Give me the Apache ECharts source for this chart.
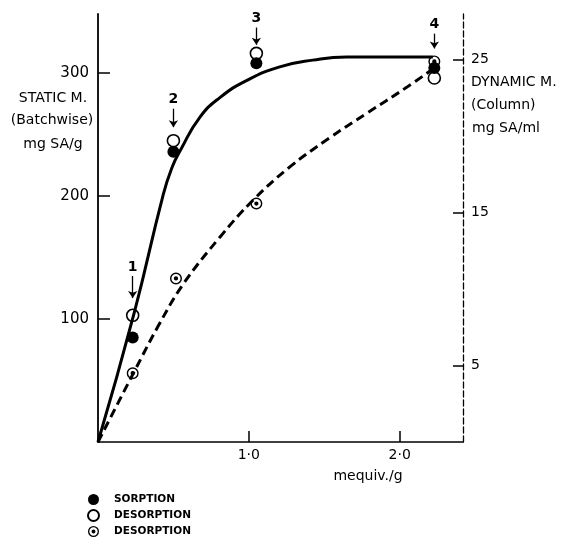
<!DOCTYPE html>
<html>
<head>
<meta charset="utf-8">
<script src="https://cdn.jsdelivr.net/npm/echarts@6/dist/echarts.min.js"></script>
<style>
  html, body { margin: 0; padding: 0; background: #fff; }
  #main { width: 566px; height: 539px; }
</style>
</head>
<body>
<div id="main"></div>
<script>
// points: x in mequiv./g
const sorption = [[0.23, 85], [0.50, 236], [1.05, 308], [2.23, 304]];
const desorptionOpen = [[0.23, 103], [0.50, 245], [1.05, 316], [2.23, 296]];
// dynamic (column) desorption, right axis mg SA/ml
const desorptionDyn = [[0.23, 4.5], [0.517, 10.7], [1.05, 15.6], [2.23, 24.9]];

// hand drawn curves
const staticCurve = [[0, 0], [0.24, 105], [0.43, 200], [0.49, 223], [0.55, 238],
  [0.675, 264], [0.808, 280], [0.987, 294], [1.205, 305], [1.424, 310.5], [1.649, 313], [2.22, 313]];
const dynamicCurve = [[0, 0], [0.24, 4.6], [0.40, 7.6], [0.563, 10.3], [0.808, 13.4], [1.026, 15.8],
  [1.272, 18.0], [1.536, 19.9], [1.781, 21.5], [2.046, 23.2], [2.22, 24.4]];

const xTicks = [1, 2];
const leftTicks = [100, 200, 300];
const rightTicks = [5, 15, 25];

// numbered arrows: [label, x, from, to] on left scale
const arrows = [['1', 0.23, 135, 117], ['2', 0.50, 271, 256], ['3', 1.05, 337, 323], ['4', 2.23, 332, 320]];

const circledDot = 'path://M10 0A10 10 0 1 1 10 20A10 10 0 1 1 10 0Z' +
  'M10 2.4A7.6 7.6 0 1 0 10 17.6A7.6 7.6 0 1 0 10 2.4Z' +
  'M10 6.4A3.6 3.6 0 1 1 10 13.6A3.6 3.6 0 1 1 10 6.4Z';

const FONT = 'DejaVu Sans';
const chart = echarts.init(document.getElementById('main'));

chart.setOption({
  animation: false,
  backgroundColor: '#fff',
  grid: { left: 98, right: 103, top: 14, bottom: 97 },
  xAxis: {
    type: 'value', min: 0, max: 2.42,
    axisLine: { lineStyle: { color: '#000', width: 1.5 } },
    axisTick: { inside: true, length: 11, customValues: xTicks, lineStyle: { color: '#000', width: 1.5 } },
    axisLabel: {
      customValues: xTicks, margin: 6, color: '#000', fontFamily: FONT, fontSize: 14,
      formatter: v => v.toFixed(1).replace('.', '·')
    },
    splitLine: { show: false }
  },
  yAxis: [
    {
      type: 'value', min: 0, max: 348, position: 'left',
      axisLine: { show: true, lineStyle: { color: '#000', width: 1.8 } },
      axisTick: { inside: true, length: 12, customValues: leftTicks, lineStyle: { color: '#000', width: 1.5 } },
      axisLabel: { customValues: leftTicks, margin: 9, color: '#000', fontFamily: FONT, fontSize: 15 },
      splitLine: { show: false }
    },
    {
      type: 'value', min: 0, max: 28, position: 'right',
      axisLine: { show: true, lineStyle: { color: '#000', width: 1.3, type: [6, 3] } },
      axisTick: { inside: true, length: 10, customValues: rightTicks, lineStyle: { color: '#000', width: 1.5 } },
      axisLabel: { customValues: rightTicks, margin: 8, color: '#000', fontFamily: FONT, fontSize: 14 },
      splitLine: { show: false }
    }
  ],
  legend: {
    orient: 'vertical', left: 87, top: 494, padding: 0, height: 45,
    itemWidth: 11, itemHeight: 11, itemGap: 4,
    data: ['SORPTION', 'DESORPTION', 'DESORPTION '],
    textStyle: { fontFamily: FONT, fontSize: 10.5, fontWeight: 'bold', color: '#000', padding: [0, 0, 0, 10] }
  },
  graphic: [
    { type: 'text', x: 53, y: 98, style: { text: 'STATIC M.', fontFamily: FONT, fontSize: 14, fill: '#000', align: 'center', verticalAlign: 'middle' } },
    { type: 'text', x: 52, y: 120, style: { text: '(Batchwise)', fontFamily: FONT, fontSize: 14, fill: '#000', align: 'center', verticalAlign: 'middle' } },
    { type: 'text', x: 53, y: 144, style: { text: 'mg SA/g', fontFamily: FONT, fontSize: 14, fill: '#000', align: 'center', verticalAlign: 'middle' } },
    { type: 'text', x: 471, y: 82, style: { text: 'DYNAMIC M.', fontFamily: FONT, fontSize: 14, fill: '#000', verticalAlign: 'middle' } },
    { type: 'text', x: 471, y: 105, style: { text: '(Column)', fontFamily: FONT, fontSize: 14, fill: '#000', verticalAlign: 'middle' } },
    { type: 'text', x: 472, y: 128, style: { text: 'mg SA/ml', fontFamily: FONT, fontSize: 14, fill: '#000', verticalAlign: 'middle' } },
    { type: 'text', x: 368, y: 476, style: { text: 'mequiv./g', fontFamily: FONT, fontSize: 14, fill: '#000', align: 'center', verticalAlign: 'middle' } }
  ],
  series: [
    {
      name: 'static', type: 'line', yAxisIndex: 0, data: staticCurve,
      smooth: 0.5, symbol: 'none',
      lineStyle: { color: '#000', width: 3 },
      markLine: {
        silent: true, symbol: ['none', 'arrow'], symbolSize: 7,
        lineStyle: { color: '#000', width: 1.3, type: 'solid' },
        label: { show: true, position: 'start', distance: 2, formatter: '{b}', color: '#000', fontFamily: FONT, fontSize: 14, fontWeight: 'bold' },
        data: arrows.map(a => [{ coord: [a[1], a[2]], name: a[0] }, { coord: [a[1], a[3]] }])
      }
    },
    {
      name: 'dynamic', type: 'line', yAxisIndex: 1, data: dynamicCurve,
      smooth: 0.4, symbol: 'none',
      lineStyle: { color: '#000', width: 3, type: [9, 5] }
    },
    {
      name: 'DESORPTION', type: 'scatter', yAxisIndex: 0, data: desorptionOpen,
      symbol: 'circle', symbolSize: 12,
      itemStyle: { color: '#fff', borderColor: '#000', borderWidth: 1.6, opacity: 1 }
    },
    {
      name: 'SORPTION', type: 'scatter', yAxisIndex: 0, data: sorption,
      symbol: 'circle', symbolSize: 12,
      itemStyle: { color: '#000', opacity: 1 }
    },
    {
      name: 'DESORPTION ', type: 'scatter', yAxisIndex: 1, data: desorptionDyn,
      symbol: circledDot, symbolSize: 12,
      itemStyle: { color: '#000', opacity: 1 }
    }
  ]
});
</script>
</body>
</html>
